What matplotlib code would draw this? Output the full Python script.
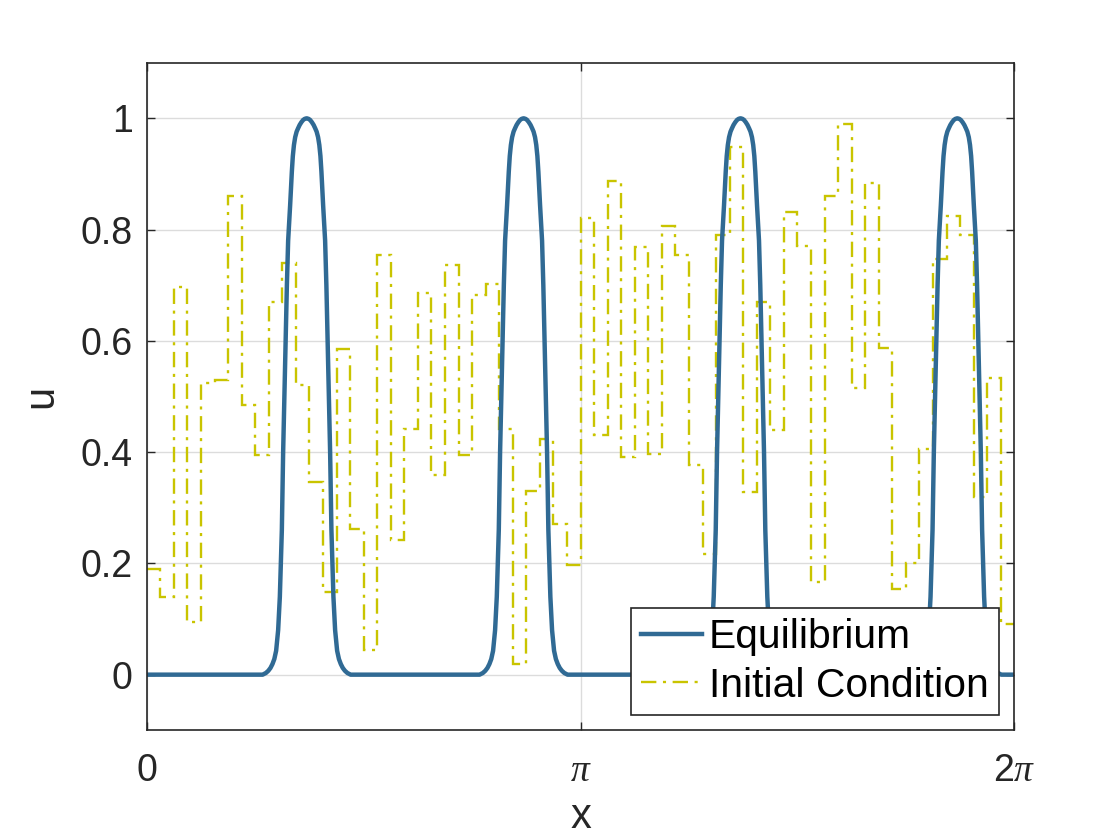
import numpy as np
import matplotlib
matplotlib.use("Agg")
import matplotlib.pyplot as plt

plt.rcParams['font.family'] = ['Liberation Sans', 'DejaVu Sans']
plt.rcParams['mathtext.fontset'] = 'custom'
plt.rcParams['mathtext.rm'] = 'Liberation Sans'
plt.rcParams['mathtext.it'] = 'Liberation Serif:italic'

# initial condition: 64 equal steps on [0, 2pi]
ic_values = [0.190, 0.139, 0.696, 0.095, 0.525, 0.530, 0.861, 0.485,
             0.394, 0.670, 0.740, 0.520, 0.347, 0.149, 0.586, 0.262,
             0.044, 0.755, 0.242, 0.441, 0.686, 0.359, 0.736, 0.395,
             0.682, 0.703, 0.441, 0.019, 0.330, 0.423, 0.271, 0.198,
             0.821, 0.430, 0.887, 0.391, 0.768, 0.397, 0.807, 0.755,
             0.377, 0.217, 0.791, 0.948, 0.328, 0.670, 0.439, 0.832,
             0.770, 0.167, 0.861, 0.990, 0.515, 0.884, 0.588, 0.154,
             0.200, 0.406, 0.748, 0.825, 0.791, 0.320, 0.534, 0.091]

# equilibrium: four identical bumps, profile (distance from centre, u)
bump_centres = [1.158, 2.729, 4.300, 5.870]
bump_offsets = [0.0, 0.0140, 0.0253, 0.0380, 0.0507, 0.0620, 0.0724, 0.0830,
                0.0919, 0.1000, 0.1071, 0.1194, 0.1339, 0.1430, 0.1520,
                0.1610, 0.1701, 0.1795, 0.1868, 0.1940, 0.2063, 0.2208,
                0.2340, 0.2476, 0.2620, 0.2773, 0.2950, 0.3185]
bump_values = [1.0, 0.999, 0.997, 0.993, 0.988, 0.982, 0.976, 0.966,
               0.952, 0.932, 0.904, 0.844, 0.780, 0.700, 0.600,
               0.500, 0.400, 0.260, 0.200, 0.140, 0.080, 0.043,
               0.028, 0.019, 0.012, 0.007, 0.003, 0.0]

xt = [0, np.pi, 2 * np.pi]
xt_labels = ['0', r'$\pi$', r'2$\pi$']
yt = [0, 0.2, 0.4, 0.6, 0.8, 1.0]
yt_labels = ['0', '0.2', '0.4', '0.6', '0.8', '1']

# build the equilibrium curve from the bump profile
off = np.array(bump_offsets)
val = np.array(bump_values)
eq_x = [0.0]
eq_u = [0.0]
for c in bump_centres:
    eq_x += list(c - off[::-1]) + list(c + off[1:])
    eq_u += list(val[::-1]) + list(val[1:])
eq_x.append(2 * np.pi)
eq_u.append(0.0)

edges = np.linspace(0, 2 * np.pi, len(ic_values) + 1)

fig = plt.figure(figsize=(5.6, 4.2), dpi=200)
ax = fig.add_axes([0.131, 0.1306, 0.7747, 0.7948])

ax.plot(eq_x, eq_u, color='#306A94', lw=1.6, label='Equilibrium')
ax.stairs(ic_values, edges, baseline=None, color='#C9C400', lw=0.85,
          linestyle=(0, (6.5, 2.8, 1.3, 2.8)), label='Initial Condition')

ax.set_xlim(0, 2 * np.pi)
ax.set_ylim(-0.1, 1.1)
ax.set_xticks(xt)
ax.set_xticklabels(xt_labels)
ax.set_yticks(yt)
ax.set_yticklabels(yt_labels)

ax.grid(True, color='#DCDCDC', lw=0.5)
ax.set_axisbelow(True)
for s in ax.spines.values():
    s.set_color('#262626')
    s.set_linewidth(0.6)
ax.tick_params(direction='in', length=2.9, width=0.5, colors='#262626',
               top=True, right=True, labelsize=13.5)
ax.tick_params(axis='x', pad=8)
ax.tick_params(axis='y', pad=5)

ax.set_xlabel('x', fontsize=15, color='#262626', labelpad=3)
ax.set_ylabel('u', fontsize=15, color='#262626', labelpad=7)

leg = ax.legend(loc='lower right', fontsize=14.7, frameon=True, fancybox=False,
                edgecolor='#262626', framealpha=1, borderaxespad=0.38,
                handlelength=1.5, handletextpad=0.17, borderpad=0.25,
                labelspacing=0.26)
leg.get_frame().set_linewidth(0.6)

fig.savefig('out.png', dpi=200)
